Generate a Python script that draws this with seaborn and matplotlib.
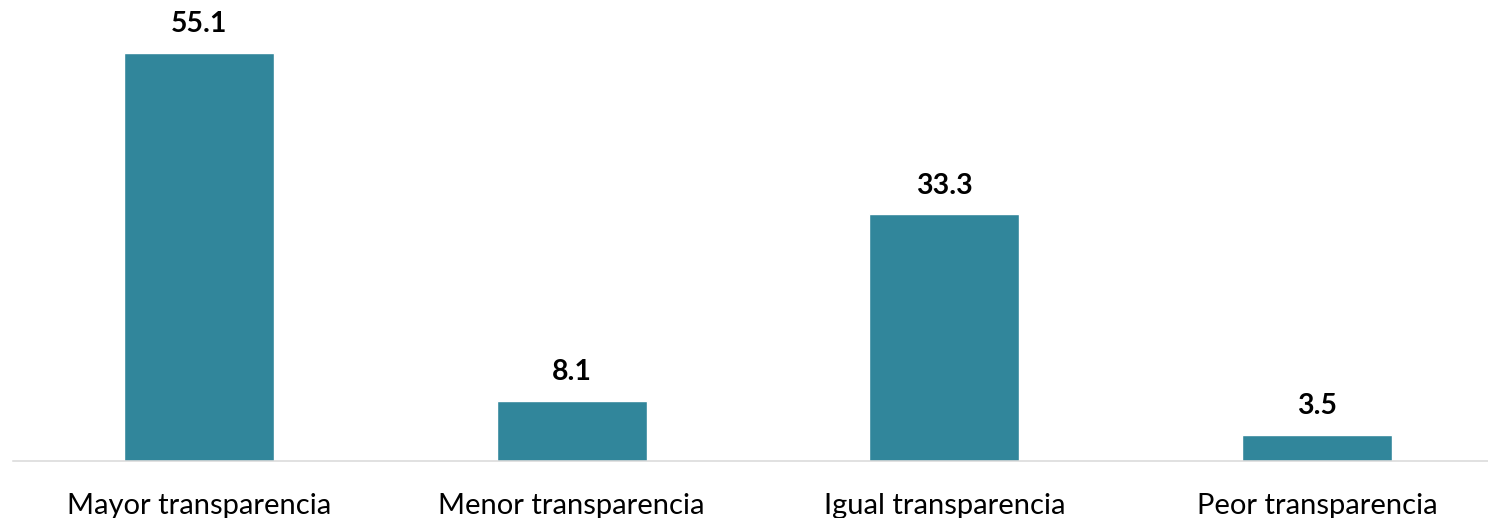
import matplotlib
matplotlib.use('Agg')
import matplotlib.pyplot as plt
import seaborn as sns
import pandas as pd

categories = ['Mayor transparencia', 'Menor transparencia', 'Igual transparencia', 'Peor transparencia']
values = [55.1, 8.1, 33.3, 3.5]
value_labels = ['55.1', '8.1', '33.3', '3.5']

sns.set_theme(style='white')
plt.rcParams['font.family'] = ['Lato', 'DejaVu Sans']

df = pd.DataFrame({'categoria': categories, 'valor': values})

fig = plt.figure(figsize=(14.88, 5.18), dpi=100)
ax = fig.add_axes([13 / 1488, 57 / 518, 1 - 13 / 1488, 461 / 518])

sns.barplot(data=df, x='categoria', y='valor', color='#31869B', saturation=1,
            width=0.402, ax=ax)

# value labels above bars
for rect, lab in zip(ax.patches, value_labels):
    ax.annotate(lab, xy=(rect.get_x() + rect.get_width() / 2, rect.get_height()),
                xytext=(0, 15), textcoords='offset points',
                ha='center', va='baseline', fontsize=20.5, fontweight='bold', color='black')

ax.set_xlim(-0.499, 3.459)
ax.set_ylim(0, 62.26)
ax.set_xlabel('')
ax.set_ylabel('')
ax.set_yticks([])
ax.tick_params(axis='x', length=0, pad=23, labelsize=21, labelcolor='black')

for s in ['top', 'right', 'left']:
    ax.spines[s].set_visible(False)
ax.spines['bottom'].set_color('#D9D9D9')
ax.spines['bottom'].set_linewidth(1.1)

fig.savefig('out.png', dpi=100)
plt.close()
